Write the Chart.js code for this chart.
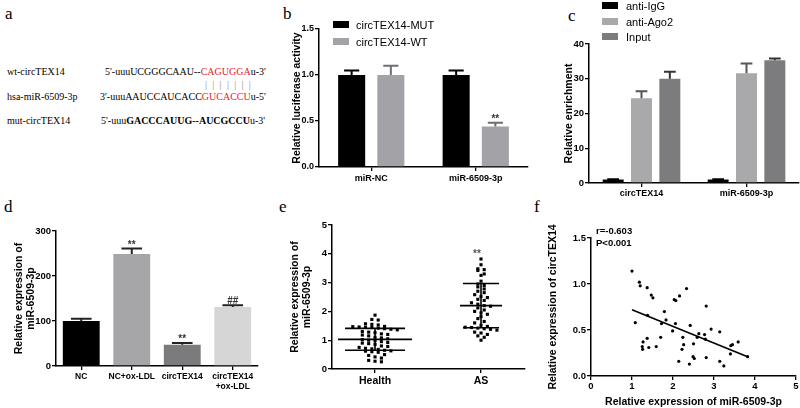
<!DOCTYPE html>
<html>
<head>
<meta charset="utf-8">
<script src="https://cdn.jsdelivr.net/npm/chart.js@4.4.0/dist/chart.umd.min.js"></script>
<style>
body { margin: 0; width: 800px; height: 408px; position: relative; overflow: hidden; background: #fff; font-family: "Liberation Sans", Arial, sans-serif; }
.box { position: absolute; }
.lbl { position: absolute; font-family: "Liberation Serif", serif; font-size: 17px; line-height: 20px; }
.seq { position: absolute; font-family: "Liberation Serif", serif; font-size: 10px; line-height: 12px; white-space: nowrap; }
.red { color: #e8232b; }
.pipes { color: #888; letter-spacing: 5.3px; }
.leg { position: absolute; font-size: 11px; line-height: 12px; white-space: nowrap; }
.sw { position: absolute; width: 16px; height: 7px; }
.stat { position: absolute; font-size: 9.5px; font-weight: bold; line-height: 12px; }
</style>
</head>
<body>

<!-- panel a : sequence alignment, plain text -->
<div class="lbl" style="left:5px;top:4px">a</div>
<div class="seq" style="left:7px;top:66px">wt-circTEX14</div>
<div class="seq" style="left:105px;top:66px">5'-uuuUCGGGCAAU--<span class="red">CAGUGGA</span>u-3'</div>
<div class="seq pipes" style="left:205px;top:79px">|||||||</div>
<div class="seq" style="left:7px;top:91px">hsa-miR-6509-3p</div>
<div class="seq" style="left:100px;top:91px">3'-uuuAAUCCAUCACC<span class="red">GUCACCU</span>u-5'</div>
<div class="seq" style="left:7px;top:115px">mut-circTEX14</div>
<div class="seq" style="left:101px;top:115px">5'-uuu<b>GACCCAUUG--AUCGCCU</b>u-3'</div>

<div class="lbl" style="left:283px;top:4px">b</div>
<div class="lbl" style="left:568px;top:6px">c</div>
<div class="lbl" style="left:4px;top:197px">d</div>
<div class="lbl" style="left:279px;top:197px">e</div>
<div class="lbl" style="left:534px;top:197px">f</div>

<div class="box" style="left:270px;top:0px"><canvas id="chartB" width="270" height="200"></canvas></div>
<div class="box" style="left:540px;top:0px"><canvas id="chartC" width="260" height="200"></canvas></div>
<div class="box" style="left:0px;top:200px"><canvas id="chartD" width="270" height="208"></canvas></div>
<div class="box" style="left:270px;top:200px"><canvas id="chartE" width="270" height="208"></canvas></div>
<div class="box" style="left:540px;top:200px"><canvas id="chartF" width="260" height="208"></canvas></div>

<div id="legB"></div>
<div id="legC"></div>
<div class="stat" style="left:596px;top:225px">r=-0.603</div>
<div class="stat" style="left:596px;top:237px">P&lt;0.001</div>

<script>
// ---- panel b : luciferase
const bGroups = ['miR-NC', 'miR-6509-3p'];
const bSeries = ['circTEX14-MUT', 'circTEX14-WT'];
const bMut = [1.0, 1.0];
const bMutErr = [0.05, 0.05];
const bWt = [1.0, 0.44];
const bWtErr = [0.10, 0.04];
const bWtSig = ['', '**'];

// ---- panel c : RIP enrichment
const cGroups = ['circTEX14', 'miR-6509-3p'];
const cSeries = ['anti-IgG', 'anti-Ago2', 'Input'];
const cIgG = [1.0, 1.0];
const cIgGErr = [0.1, 0.1];
const cAgo2 = [24.4, 31.6];
const cAgo2Err = [2.0, 2.8];
const cInput = [30.0, 35.3];
const cInputErr = [2.0, 0.5];

// ---- panel d : miR-6509-3p expression
const dGroups = ['NC', 'NC+ox-LDL', 'circTEX14', ['circTEX14', '+ox-LDL']];
const dValues = [100, 249, 47, 131];
const dErr = [5, 12, 4, 4];
const dSig = ['', '**', '**', '##'];

// ---- panel e : Health vs AS
const eGroups = ['Health', 'AS'];
const eHealth = [1.87, 1.72, 1.70, 1.57, 1.55, 1.53, 1.48, 1.47, 1.46, 1.45, 1.44, 1.42, 1.40, 1.38, 1.36,
  1.30, 1.28, 1.26, 1.22, 1.20, 1.18, 1.15, 1.10, 1.08, 1.05, 1.02, 1.00, 0.98, 0.95, 0.92, 0.90, 0.88,
  0.85, 0.80, 0.78, 0.75, 0.72, 0.70, 0.68, 0.65, 0.63, 0.62, 0.60, 0.58, 0.50, 0.47, 0.42, 0.38, 0.30, 0.27, 0.25];
const eAS = [3.82, 3.62, 3.48, 3.45, 3.42, 3.30, 3.25, 3.05, 2.95, 2.90, 2.85, 2.78, 2.70, 2.65, 2.58, 2.52,
  2.48, 2.42, 2.38, 2.30, 2.25, 2.20, 2.18, 2.12, 2.05, 2.00, 1.95, 1.90, 1.82, 1.75, 1.65, 1.60, 1.52, 1.48,
  1.45, 1.44, 1.42, 1.40, 1.38, 1.35, 1.28, 1.25, 1.20, 1.15, 1.10, 1.00];
const eMean = [1.03, 2.20];
const eSD = [0.38, 0.77];
const eSig = ['', '**'];

// ---- panel f : correlation
const fX = [1.00, 1.18, 1.20, 1.37, 1.47, 1.51, 1.08, 1.38, 1.79, 1.83, 1.72, 2.06, 2.03, 2.07, 2.16, 2.33,
  1.99, 2.42, 2.81, 2.93, 1.70, 1.37, 1.27, 1.25, 1.26, 1.41, 1.59, 2.24, 2.26, 2.22, 2.14, 2.40, 2.50, 2.49,
  2.52, 2.63, 2.77, 2.59, 2.79, 3.14, 2.81, 3.14, 3.24, 3.59, 3.41, 3.45, 3.40, 3.82];
const fY = [1.14, 1.02, 0.98, 0.96, 0.88, 0.85, 0.58, 0.66, 0.70, 0.61, 0.57, 0.57, 0.83, 0.82, 0.87, 0.95,
  0.49, 0.55, 0.76, 0.51, 0.42, 0.41, 0.37, 0.32, 0.29, 0.31, 0.32, 0.42, 0.34, 0.29, 0.16, 0.13, 0.35, 0.21,
  0.19, 0.46, 0.45, 0.42, 0.40, 0.48, 0.20, 0.16, 0.11, 0.37, 0.33, 0.34, 0.24, 0.21];
const fFitX = [1.00, 3.82];
const fFitY = [0.72, 0.21];

// colours
const black = '#000000';
const grayB = '#a3a3a7';
const lightC = '#a9a9ab';
const darkC = '#7c7c7e';
const dColors = ['#000000', '#a6a6a9', '#7b7b7d', '#d6d6d6'];

Chart.defaults.font.family = '"Liberation Sans", Arial, sans-serif';
Chart.defaults.color = '#000';
Chart.defaults.animation = false;

// legends as html
function legend(el, names, colors, x, tops, textX) {
  let html = '';
  names.forEach((n, i) => {
    html += '<div class="sw" style="left:' + x + 'px;top:' + tops[i] + 'px;background:' + colors[i] + '"></div>';
    html += '<div class="leg" style="left:' + textX + 'px;top:' + (tops[i] - 2.5) + 'px">' + n + '</div>';
  });
  document.getElementById(el).innerHTML = html;
}
legend('legB', bSeries, [black, grayB], 333, [21, 38], 356);
legend('legC', cSeries, [black, lightC, darkC], 602, [2, 18, 33], 626);

// axis options (GraphPad look: axis lines, outward ticks, no grid)
function axis(o) {
  const a = {
    grid: { drawOnChartArea: false, drawTicks: true, tickLength: 4, color: '#000', lineWidth: 1.3, offset: false },
    border: { display: true, color: '#000', width: 1.5 },
    ticks: Object.assign({ color: '#000', padding: 1, font: { size: 9.5, weight: 'bold' } }, o.ticks || {}),
    title: o.title
      ? { display: true, text: o.title, color: '#000', font: { size: 10.5, weight: o.titleWeight || 'bold', lineHeight: 1.2 }, padding: o.titlePad }
      : { display: false }
  };
  ['type', 'min', 'max', 'offset', 'afterFit', 'afterBuildTicks'].forEach(k => {
    if (o[k] !== undefined) a[k] = o[k];
  });
  return a;
}

// upward error bars on bar charts
const errBars = {
  id: 'errBars',
  afterDatasetsDraw(chart) {
    const ctx = chart.ctx;
    const y = chart.scales.y;
    chart.data.datasets.forEach((ds, i) => {
      if (!ds.err) return;
      chart.getDatasetMeta(i).data.forEach((bar, j) => {
        const base = y.getPixelForValue(ds.data[j]);
        const top = y.getPixelForValue(ds.data[j] + ds.err[j]);
        const half = bar.width * 0.28;
        ctx.save();
        ctx.strokeStyle = ds.errColor || '#000';
        ctx.lineWidth = 2;
        ctx.beginPath();
        ctx.moveTo(bar.x, base);
        ctx.lineTo(bar.x, top);
        ctx.moveTo(bar.x - half, top);
        ctx.lineTo(bar.x + half, top);
        ctx.stroke();
        if (ds.sig && ds.sig[j]) {
          ctx.fillStyle = '#333';
          ctx.font = 'bold 10px "Liberation Sans", Arial';
          ctx.textAlign = 'center';
          ctx.textBaseline = 'alphabetic';
          ctx.fillText(ds.sig[j], bar.x, top - 1);
        }
        ctx.restore();
      });
    });
  }
};

// ---- chart b
new Chart(document.getElementById('chartB'), {
  type: 'bar',
  data: {
    labels: bGroups,
    datasets: [
      { label: bSeries[0], data: bMut, backgroundColor: black, err: bMutErr, errColor: '#000' },
      { label: bSeries[1], data: bWt, backgroundColor: grayB, err: bWtErr, errColor: '#6e6e72', sig: bWtSig }
    ]
  },
  options: {
    responsive: false,
    layout: { padding: { top: 29, right: 12, left: 0, bottom: 0 } },
    plugins: { legend: { display: false }, tooltip: { enabled: false } },
    datasets: { bar: { categoryPercentage: 0.75, barPercentage: 0.69 } },
    scales: {
      x: axis({ offset: true, ticks: { font: { size: 9, weight: 'bold' }, padding: 2 }, afterFit: s => { s.height = 33; } }),
      y: axis({ min: 0, max: 1.5, ticks: { stepSize: 0.5, font: { size: 9, weight: 'bold' }, callback: v => v.toFixed(1) },
        title: 'Relative luciferase activity', titlePad: { top: 20.5, bottom: 0 }, afterFit: s => { s.width = 49; } })
    }
  },
  plugins: [errBars]
});

// ---- chart c
new Chart(document.getElementById('chartC'), {
  type: 'bar',
  data: {
    labels: cGroups,
    datasets: [
      { label: cSeries[0], data: cIgG, backgroundColor: black, err: cIgGErr, errColor: '#000' },
      { label: cSeries[1], data: cAgo2, backgroundColor: lightC, err: cAgo2Err, errColor: '#555' },
      { label: cSeries[2], data: cInput, backgroundColor: darkC, err: cInputErr, errColor: '#333' }
    ]
  },
  options: {
    responsive: false,
    layout: { padding: { top: 44, right: 1, left: 0, bottom: 0 } },
    plugins: { legend: { display: false }, tooltip: { enabled: false } },
    datasets: { bar: { categoryPercentage: 0.81, barPercentage: 0.74 } },
    scales: {
      x: axis({ offset: true, ticks: { font: { size: 9, weight: 'bold' }, padding: 1 }, afterFit: s => { s.height = 17; } }),
      y: axis({ min: 0, max: 40, ticks: { stepSize: 10 },
        title: 'Relative enrichment', titlePad: { top: 22.7, bottom: 0 }, afterFit: s => { s.width = 49; } })
    }
  },
  plugins: [errBars]
});

// ---- chart d
new Chart(document.getElementById('chartD'), {
  type: 'bar',
  data: {
    labels: dGroups,
    datasets: [
      { data: dValues, backgroundColor: dColors, err: dErr, errColor: '#222', sig: dSig }
    ]
  },
  options: {
    responsive: false,
    layout: { padding: { top: 31, right: 12, left: 0, bottom: 0 } },
    plugins: { legend: { display: false }, tooltip: { enabled: false } },
    datasets: { bar: { categoryPercentage: 1, barPercentage: 0.73 } },
    scales: {
      x: axis({ offset: true, ticks: { font: { size: 8.5, weight: 'bold', lineHeight: 1.25 }, padding: 1, maxRotation: 0, autoSkip: false },
        afterFit: s => { s.height = 42; } }),
      y: axis({ min: 0, max: 300, ticks: { stepSize: 100 },
        title: ['Relative expression of', 'miR-6509-3p'], titlePad: { top: 12.5, bottom: 0 }, afterFit: s => { s.width = 56; } })
    }
  },
  plugins: [errBars]
});

// ---- chart e : scatter dot plot, dots spread sideways by value bins
function swarm(values, center, bin, step) {
  const rows = {};
  values.forEach(v => {
    const k = Math.round(v / bin);
    (rows[k] = rows[k] || []).push(v);
  });
  const pts = [];
  Object.keys(rows).forEach(k => {
    const r = rows[k];
    r.forEach((v, i) => pts.push({ x: center + (i - (r.length - 1) / 2) * step, y: v }));
  });
  return pts;
}

const meanSd = {
  id: 'meanSd',
  afterDatasetsDraw(chart, args, opts) {
    const { ctx, scales: { x, y } } = chart;
    ctx.save();
    ctx.strokeStyle = '#000';
    ctx.lineWidth = 1.6;
    eMean.forEach((m, i) => {
      const cx = x.getPixelForValue(i + 1);
      const ym = y.getPixelForValue(m);
      const yHi = y.getPixelForValue(m + eSD[i]);
      const yLo = y.getPixelForValue(m - eSD[i]);
      const hw = opts.meanHalf[i], cw = opts.capHalf[i];
      ctx.beginPath();
      ctx.moveTo(cx - hw, ym); ctx.lineTo(cx + hw, ym);
      ctx.moveTo(cx, yLo); ctx.lineTo(cx, yHi);
      ctx.moveTo(cx - cw, yHi); ctx.lineTo(cx + cw, yHi);
      ctx.moveTo(cx - cw, yLo); ctx.lineTo(cx + cw, yLo);
      ctx.stroke();
      if (eSig[i]) {
        const top = Math.max(...chart.data.datasets[i].data.map(p => p.y));
        ctx.fillStyle = '#555';
        ctx.font = 'bold 10px "Liberation Sans", Arial';
        ctx.textAlign = 'center';
        ctx.fillText(eSig[i], cx - 4, y.getPixelForValue(top) - 2);
      }
    });
    ctx.restore();
  }
};

new Chart(document.getElementById('chartE'), {
  type: 'scatter',
  data: {
    datasets: [
      { data: swarm(eHealth, 1, 0.14, 0.06), backgroundColor: '#000', borderWidth: 0, pointStyle: 'rect', pointRadius: 2.2 },
      { data: swarm(eAS, 2, 0.14, 0.06), backgroundColor: '#000', borderWidth: 0, pointStyle: 'rect', pointRadius: 2.2 }
    ]
  },
  options: {
    responsive: false,
    layout: { padding: { top: 25, right: 15, left: 0, bottom: 0 } },
    plugins: { legend: { display: false }, tooltip: { enabled: false }, meanSd: { meanHalf: [37, 21], capHalf: [30, 18] } },
    scales: {
      x: axis({ type: 'linear', min: 0.594, max: 2.415, ticks: { font: { size: 10.5, weight: 'bold' }, padding: 2, callback: v => eGroups[v - 1] },
        afterBuildTicks: s => { s.ticks = [{ value: 1 }, { value: 2 }]; }, afterFit: s => { s.height = 39; } }),
      y: axis({ min: 0, max: 5, ticks: { stepSize: 1 },
        title: ['Relative expression of', 'miR-6509-3p'], titlePad: { top: 18.7, bottom: 0 }, afterFit: s => { s.width = 62; } })
    }
  },
  plugins: [meanSd]
});

// ---- chart f
new Chart(document.getElementById('chartF'), {
  type: 'scatter',
  data: {
    datasets: [
      { data: fX.map((x, i) => ({ x: x, y: fY[i] })), backgroundColor: '#000', borderWidth: 0, pointRadius: 1.6 },
      { data: fFitX.map((x, i) => ({ x: x, y: fFitY[i] })), showLine: true, borderColor: '#000', borderWidth: 1.6, pointRadius: 0 }
    ]
  },
  options: {
    responsive: false,
    layout: { padding: { top: 38, right: 4, left: 0, bottom: 0 } },
    plugins: { legend: { display: false }, tooltip: { enabled: false } },
    scales: {
      x: axis({ type: 'linear', min: 0, max: 5, ticks: { stepSize: 1 },
        title: 'Relative expression of miR-6509-3p', titlePad: { top: 0, bottom: 0 }, afterFit: s => { s.height = 32; } }),
      y: axis({ min: 0, max: 1.5, ticks: { stepSize: 0.5, callback: v => v.toFixed(1) },
        title: 'Relative expression of circTEX14', titlePad: { top: 6.7, bottom: 0 }, afterFit: s => { s.width = 51; } })
    }
  }
});
</script>
</body>
</html>
